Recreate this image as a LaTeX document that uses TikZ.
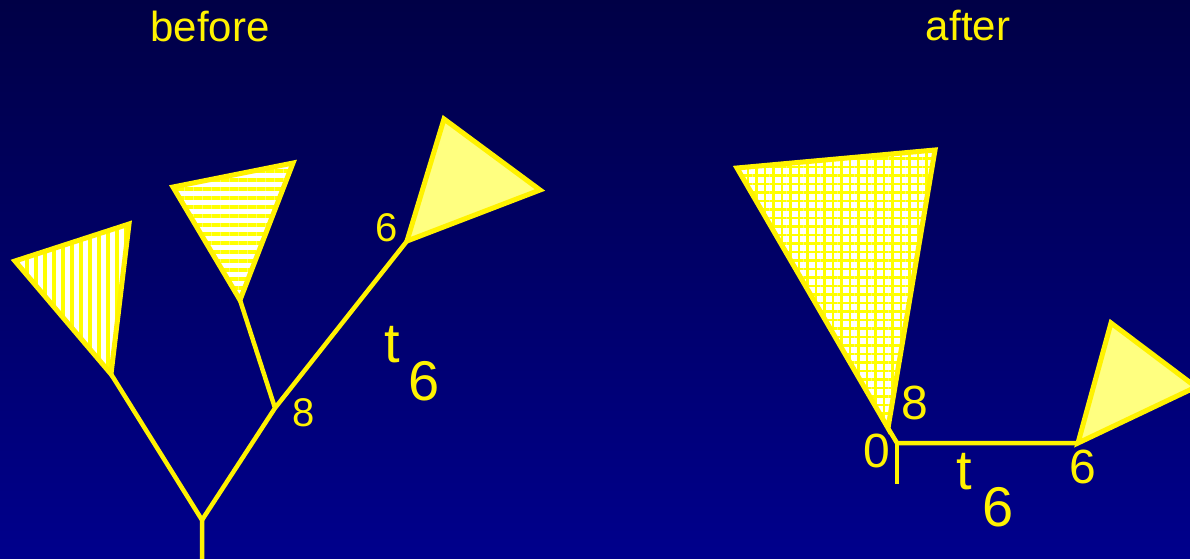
\documentclass[tikz,border=0pt]{standalone}
\usepackage{fontspec}
\setmainfont{Liberation Sans}
\usetikzlibrary{patterns.meta}
\definecolor{navytop}{RGB}{0,0,70}
\definecolor{navybot}{RGB}{0,0,140}
\definecolor{paleyel}{RGB}{255,255,128}
\tikzset{branch/.style={yellow,line width=4.5pt,line join=round},
         subtree/.style={draw=yellow,line width=5pt,line join=miter},
         lbl/.style={text=yellow,inner sep=0pt,font=\fontsize{40}{44}\selectfont},
         biglbl/.style={text=yellow,inner sep=0pt,font=\fontsize{56}{60}\selectfont}}

\begin{document}
\begin{tikzpicture}[x=1pt,y=-1pt,
  vstripe/.style={subtree,preaction={fill=white},
    pattern={Lines[angle=90,distance=9pt,line width=3.4pt]},pattern color=yellow},
  hstripe/.style={subtree,preaction={fill=white},
    pattern={Lines[angle=0,distance=9pt,line width=3.4pt]},pattern color=yellow},
  grid/.style={subtree,preaction={fill=white},
    pattern={Hatch[angle=0,distance=8.5pt,line width=2.8pt]},pattern color=yellow}]
\shade[top color=navytop,bottom color=navybot] (0,0) rectangle (1190,558);
\useasboundingbox (0,0) rectangle (1190,558);
\clip (0,0) rectangle (1190,558);
\node[lbl,font=\fontsize{42}{46}\selectfont] (before) at (210,26) {before};
\node[lbl,font=\fontsize{42}{46}\selectfont] (after) at (968,26) {after};
% tree before the rotation
\coordinate (base) at (202,560);
\coordinate (root) at (202,520);
\coordinate (a) at (111,374);
\coordinate (n8) at (275,408);
\coordinate (b) at (240,300);
\coordinate (n6) at (407,241);
\draw[branch] (base)--(root)--(a);
\draw[branch] (root)--(n8)--(b);
\draw[branch] (n8)--(n6);
\draw[vstripe] (a)--(15,261)--(129,224)--cycle;
\draw[hstripe] (b)--(173,187)--(293,163)--cycle;
\draw[subtree,fill=paleyel] (n6)--(444,119)--(540,190)--cycle;
\node[lbl] (l6) at (387,228) {6};
\node[lbl] (l8) at (304,413) {8};
\node[biglbl] (t) at (392,345) {t};
\node[biglbl] (t6) at (424,381) {6};
% tree after the rotation
\coordinate (c) at (888,428);
\coordinate (m0) at (897,443);
\coordinate (tick) at (897,484);
\coordinate (m6) at (1078,443);
\draw[branch] (c)--(m0)--(m6);
\draw[branch] (m0)--(tick);
\draw[grid] (c)--(737,168)--(935,150)--cycle;
\draw[subtree,fill=paleyel] (m6)--(1111,323)--(1196,387)--cycle;
\node[lbl,font=\fontsize{48}{52}\selectfont] (r0) at (877,451) {0};
\node[lbl,font=\fontsize{48}{52}\selectfont] (r8) at (915,403) {8};
\node[lbl,font=\fontsize{48}{52}\selectfont] (r6) at (1083,467) {6};
\node[biglbl] (rt) at (964,472) {t};
\node[biglbl] (rt6) at (998,507) {6};
\end{tikzpicture}
\end{document}
